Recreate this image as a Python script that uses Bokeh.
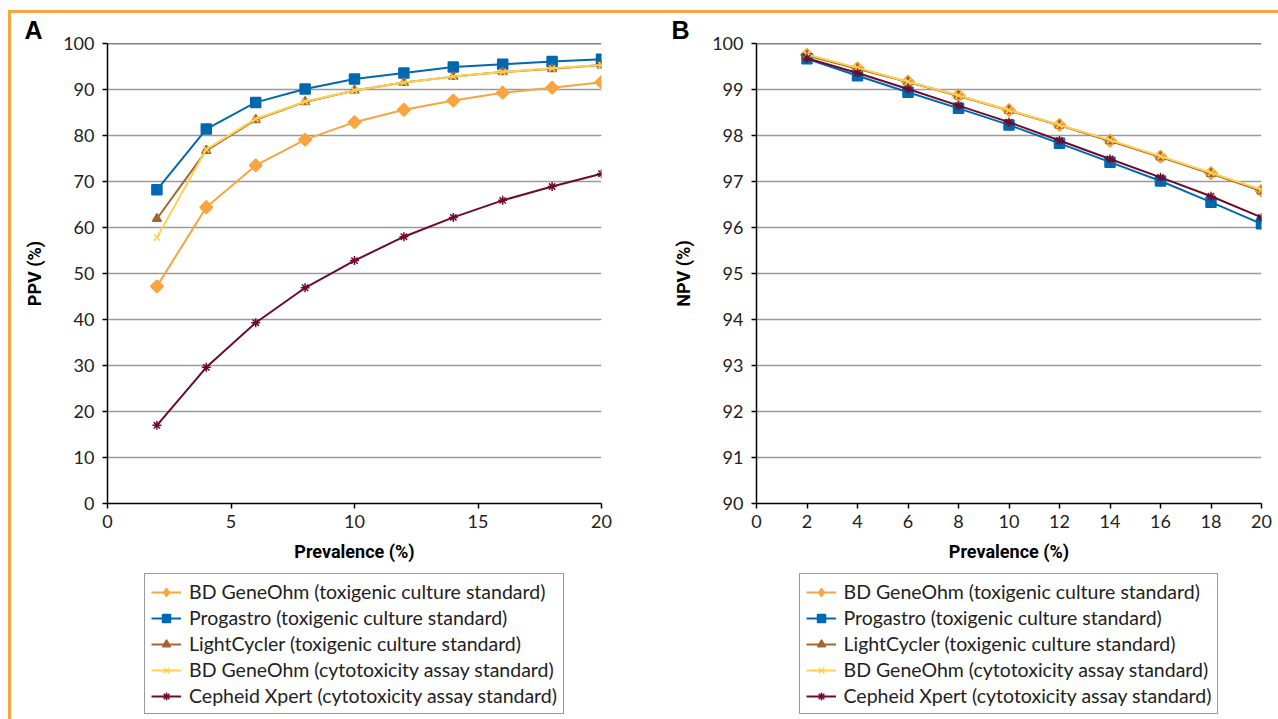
import numpy as np
from bokeh.plotting import figure
from bokeh.layouts import row, column
from bokeh.models import Legend, LegendItem, Span, FixedTicker, Title, Div, Spacer
from bokeh.embed import file_html
from bokeh.resources import INLINE

prevalence = [2, 4, 6, 8, 10, 12, 14, 16, 18, 20]

series_names = [
    "BD GeneOhm (toxigenic culture standard)",
    "Progastro (toxigenic culture standard)",
    "LightCycler (toxigenic culture standard)",
    "BD GeneOhm (cytotoxicity assay standard)",
    "Cepheid Xpert (cytotoxicity assay standard)",
]

# Panel A: PPV (%)
ppv_bd_tox = [47.2, 64.4, 73.5, 79.1, 82.9, 85.6, 87.6, 89.3, 90.4, 91.6]
ppv_progastro = [68.2, 81.4, 87.2, 90.1, 92.3, 93.6, 94.9, 95.5, 96.1, 96.6]
ppv_lightcycler = [61.9, 76.7, 83.4, 87.3, 89.8, 91.5, 92.8, 93.8, 94.5, 95.3]
ppv_bd_cyto = [57.8, 77.0, 83.6, 87.4, 89.8, 91.5, 92.8, 93.8, 94.6, 95.3]
ppv_cepheid = [17.0, 29.6, 39.3, 46.9, 52.8, 58.0, 62.2, 65.9, 68.9, 71.7]

# Panel B: NPV (%)
npv_bd_tox = [99.75, 99.46, 99.17, 98.87, 98.55, 98.23, 97.89, 97.54, 97.18, 96.80]
npv_progastro = [99.67, 99.30, 98.94, 98.59, 98.23, 97.83, 97.42, 97.01, 96.55, 96.08]
npv_lightcycler = [99.74, 99.45, 99.16, 98.86, 98.54, 98.22, 97.88, 97.53, 97.17, 96.79]
npv_bd_cyto = [99.76, 99.47, 99.17, 98.87, 98.55, 98.23, 97.90, 97.55, 97.19, 96.82]
npv_cepheid = [99.68, 99.36, 99.01, 98.65, 98.29, 97.89, 97.49, 97.09, 96.68, 96.22]

x_ticks_a = [0, 5, 10, 15, 20]
y_ticks_a = [0, 10, 20, 30, 40, 50, 60, 70, 80, 90, 100]
x_ticks_b = [0, 2, 4, 6, 8, 10, 12, 14, 16, 18, 20]
y_ticks_b = [90, 91, 92, 93, 94, 95, 96, 97, 98, 99, 100]

colors = ["#F7A540", "#0068B0", "#A5652E", "#FFD050", "#6E0B2A"]
markers = ["square", "square", "triangle", "x", "asterisk"]
legend_markers = ["diamond", "square", "triangle", "x", "asterisk"]
marker_sizes = [9, 10, 9, 9, 9]
legend_marker_sizes = [13, 9, 9, 9, 9]
angles = [np.pi / 4, 0, 0, 0, 0]

TICK_FONT = "Lato"
LABEL_FONT = "Roboto"
ORANGE = "#F7A540"


def draw_series(p, series, mks, sizes, angs):
    rends = []
    for vals, c, m, s, a in zip(series, colors, mks, sizes, angs):
        ln = p.line(prevalence, vals, line_color=c, line_width=2)
        sc = p.scatter(prevalence, vals, marker=m, size=s, angle=a,
                       fill_color=c, line_color=c, line_width=1.5)
        rends.append([ln, sc])
    return rends


def make_panel(letter, ylabel, series, xticks, yticks, yrange, width, left, right, title_offset):
    p = figure(width=width, height=559, x_range=(0, 20), y_range=yrange,
               output_backend="svg", toolbar_location=None,
               min_border_left=left, min_border_right=right,
               min_border_top=30, min_border_bottom=69)
    p.title = Title(text=letter, align="left", offset=title_offset, standoff=0,
                    text_font="Liberation Sans", text_font_style="bold",
                    text_font_size="25px", text_color="black")
    p.outline_line_color = None
    p.background_fill_color = "white"
    p.border_fill_color = "white"
    p.xgrid.grid_line_color = None
    p.ygrid.grid_line_color = "#9A9A9A"
    p.ygrid.grid_line_width = 1.5
    p.xaxis.ticker = FixedTicker(ticks=xticks)
    p.yaxis.ticker = FixedTicker(ticks=yticks)
    for ax in (p.xaxis, p.yaxis):
        ax.axis_line_color = "black"
        ax.axis_line_width = 1.5
        ax.major_tick_line_color = "black"
        ax.major_tick_line_width = 1.5
        ax.major_tick_out = 5
        ax.major_tick_in = 0
        ax.minor_tick_line_color = None
        ax.major_label_text_font = TICK_FONT
        ax.major_label_text_font_size = "18px"
        ax.major_label_text_color = "#222222"
        ax.axis_label_text_font = LABEL_FONT
        ax.axis_label_text_font_style = "bold"
        ax.axis_label_text_font_size = "18px"
        ax.axis_label_text_color = "black"
    p.xaxis.axis_label = "Prevalence (%)"
    p.xaxis.major_label_standoff = 6
    p.xaxis.axis_label_standoff = 10
    p.yaxis.axis_label = ylabel
    p.yaxis.major_label_standoff = 8
    p.yaxis.axis_label_standoff = 15

    p.add_layout(Span(location=yrange[1], dimension="width", line_color="black", line_width=1.5))
    draw_series(p, series, markers, marker_sizes, angles)

    # legend panel: a separate figure whose frame holds only the legend
    lg = figure(width=width, height=147, x_range=(-100, -50), y_range=(-100, -50),
                output_backend="svg", toolbar_location=None,
                min_border_left=left, min_border_right=right,
                min_border_top=0, min_border_bottom=0)
    lg.axis.visible = False
    lg.grid.visible = False
    lg.outline_line_color = None
    lg.background_fill_color = "white"
    lg.border_fill_color = "white"
    rends = draw_series(lg, series, legend_markers, legend_marker_sizes, [0] * 5)
    items = [LegendItem(label=n, renderers=r) for n, r in zip(series_names, rends)]
    legend = Legend(items=items, location="top_center", orientation="vertical")
    legend.label_text_font = TICK_FONT
    legend.label_text_font_size = "19.5px"
    legend.label_text_color = "#222222"
    legend.border_line_color = "#333333"
    legend.border_line_width = 1.5
    legend.glyph_width = 30
    legend.glyph_height = 20
    legend.label_height = 20
    legend.spacing = 3
    legend.padding = 6
    legend.margin = 1
    legend.label_standoff = 8
    lg.add_layout(legend, "center")
    return column(p, lg)


pA = make_panel("A", "PPV (%)",
                [ppv_bd_tox, ppv_progastro, ppv_lightcycler, ppv_bd_cyto, ppv_cepheid],
                x_ticks_a, y_ticks_a, (0, 100), 649, 96, 59, -83)
pB = make_panel("B", "NPV (%)",
                [npv_bd_tox, npv_progastro, npv_lightcycler, npv_bd_cyto, npv_cepheid],
                x_ticks_b, y_ticks_b, (90, 100), 618, 96, 17, -85)

top_bar = Div(width=1270, height=3, margin=0, styles={"background-color": ORANGE})
left_bar = Div(width=3, height=706, margin=0, styles={"background-color": ORANGE})

layout = column(
    Spacer(height=10),
    row(Spacer(width=8), top_bar),
    row(Spacer(width=8), left_bar, pA, pB),
)

open("out.html", "w").write(file_html(layout, INLINE))
